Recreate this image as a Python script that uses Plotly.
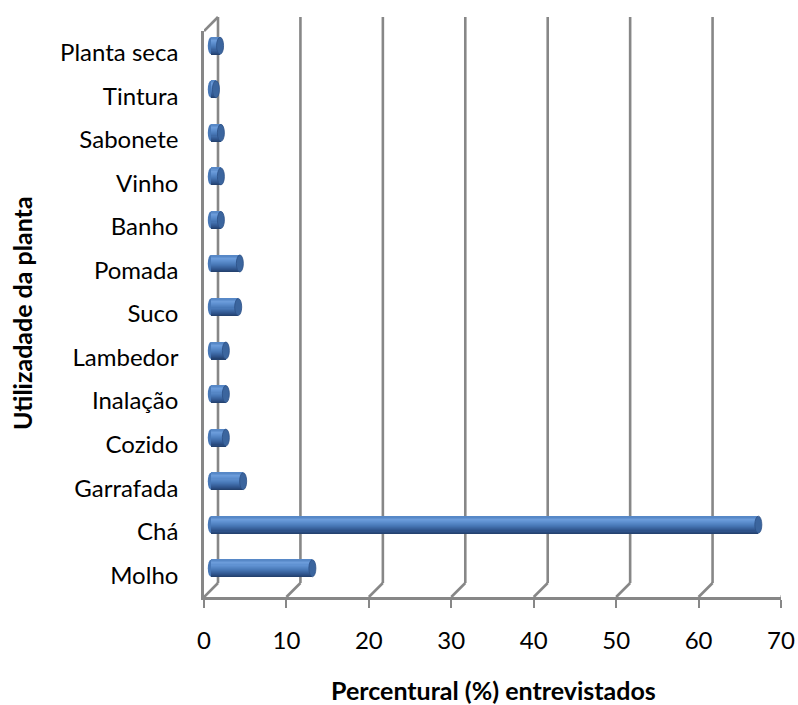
import plotly.graph_objects as go

# Plant uses and share of interviewees (%)
categories = ["Molho", "Chá", "Garrafada", "Cozido", "Inalação", "Lambedor",
              "Suco", "Pomada", "Banho", "Vinho", "Sabonete", "Tintura", "Planta seca"]
percent = [12.3, 66.4, 3.9, 1.8, 1.8, 1.8, 3.3, 3.5, 1.2, 1.2, 1.2, 0.6, 1.1]
x_ticks = [0, 10, 20, 30, 40, 50, 60, 70]

W, H = 798, 705
ML, MR, MT, MB = 204, 17, 31, 108
pw, ph = W - ML - MR, H - MT - MB
xmax = x_ticks[-1]
ncat = len(categories)
idx = list(range(ncat))

depth = 14                      # pseudo-3D depth in pixels
px_x = pw / xmax
px_y = ph / ncat
dx = (depth / 2) / px_x         # bars sit half-way into the depth
dy = (depth / 2) / px_y

GRID = "#878787"
FONT = "Lato, 'Open Sans', sans-serif"
thick = 0.39                    # bar thickness in category units


def hex2rgb(h):
    h = h.lstrip("#")
    return tuple(int(h[i:i + 2], 16) for i in (0, 2, 4))


def lerp_color(stops, t):
    for (t0, c0), (t1, c1) in zip(stops[:-1], stops[1:]):
        if t0 <= t <= t1:
            a = (t - t0) / (t1 - t0) if t1 > t0 else 0
            r0, g0, b0 = hex2rgb(c0)
            r1, g1, b1 = hex2rgb(c1)
            return "rgb(%d,%d,%d)" % (r0 + (r1 - r0) * a, g0 + (g1 - g0) * a, b0 + (b1 - b0) * a)
    return stops[-1][1]


# cylinder shading, bottom (0) to top (1)
shade = [(0.0, "#223f6a"), (0.18, "#30568e"), (0.45, "#4878b7"),
         (0.72, "#6193d3"), (0.84, "#6d9ddb"), (1.0, "#5283c3")]

fig = go.Figure()
# invisible trace so the front (labelled) axes are drawn
fig.add_trace(go.Scatter(x=[None], y=[None], xaxis="x", yaxis="y",
                         showlegend=False, hoverinfo="skip"))

nb = 16
for k in range(nb):
    frac = (k + 0.5) / nb
    w = thick / nb
    fig.add_trace(go.Bar(
        x=percent, y=idx, orientation="h", xaxis="x2", yaxis="y2",
        offset=-thick / 2 + k * w, width=w * 1.15,
        marker=dict(color=lerp_color(shade, frac), line=dict(width=0)),
        showlegend=False, hoverinfo="skip"))

shapes = []
# back-wall gridlines
for v in x_ticks:
    shapes.append(dict(type="line", xref="x", yref="paper", xsizemode="pixel", ysizemode="pixel",
                       xanchor=v, yanchor=0, x0=depth, x1=depth, y0=depth, y1=depth + ph,
                       line=dict(color=GRID, width=2.6), layer="below"))
    # floor diagonals
    shapes.append(dict(type="line", xref="x", yref="paper", xsizemode="pixel", ysizemode="pixel",
                       xanchor=v, yanchor=0, x0=0, x1=depth, y0=0, y1=depth,
                       line=dict(color=GRID, width=2.6), layer="below"))
# top edge of the side wall
shapes.append(dict(type="line", xref="x", yref="paper", xsizemode="pixel", ysizemode="pixel",
                   xanchor=0, yanchor=1, x0=0, x1=depth, y0=0, y1=depth,
                   line=dict(color=GRID, width=2.6), layer="below"))

# rounded starts and end caps of the cylinders
for i, v in zip(idx, percent):
    shapes.append(dict(type="circle", xref="x2", yref="y2", xsizemode="pixel",
                       xanchor=0, x0=-3.2, x1=3.2, y0=i - thick / 2, y1=i + thick / 2,
                       fillcolor="#4878b7", line=dict(width=0), layer="below"))
    shapes.append(dict(type="circle", xref="x2", yref="y2", xsizemode="pixel",
                       xanchor=v, x0=-3.5, x1=3.5, y0=i - thick / 2, y1=i + thick / 2,
                       fillcolor="#3b659e", line=dict(color="#2c5086", width=0.8), layer="above"))

fig.update_layout(
    width=W, height=H,
    margin=dict(l=ML, r=MR, t=MT, b=MB, pad=0, autoexpand=False),
    paper_bgcolor="white", plot_bgcolor="rgba(0,0,0,0)",
    barmode="overlay", bargap=0,
    font=dict(family=FONT, size=24, color="black"),
    xaxis=dict(range=[0, xmax], tickvals=x_ticks, showgrid=False, zeroline=False,
               showline=True, linecolor=GRID, linewidth=2.6, automargin=False,
               ticks="outside", ticklen=8, tickwidth=2, tickcolor=GRID,
               ticklabelstandoff=12, tickfont=dict(size=24)),
    yaxis=dict(range=[-0.5, ncat - 0.5], tickvals=idx, ticktext=categories,
               showgrid=False, zeroline=False, showline=True, linecolor=GRID, linewidth=2.6,
               automargin=False, ticks="", ticklabelstandoff=18, tickfont=dict(size=24)),
    xaxis2=dict(range=[-dx, xmax - dx], overlaying="x", visible=False, automargin=False),
    yaxis2=dict(range=[-0.5 - dy, ncat - 0.5 - dy], overlaying="y", visible=False, automargin=False),
    shapes=shapes,
    annotations=[
        dict(text="<b>Percentural (%) entrevistados</b>", xref="paper", yref="paper",
             x=(493 - ML) / pw, y=(MT + ph - 690) / ph, xanchor="center", yanchor="middle",
             showarrow=False, borderpad=0, font=dict(size=25)),
        dict(text="<b>Utilizadade da planta</b>", xref="paper", yref="paper",
             x=(22 - ML) / pw, y=(MT + ph - 313) / ph, xanchor="center", yanchor="middle",
             textangle=-90, showarrow=False, borderpad=0, font=dict(size=25)),
    ],
)

fig.write_html("out.html")
